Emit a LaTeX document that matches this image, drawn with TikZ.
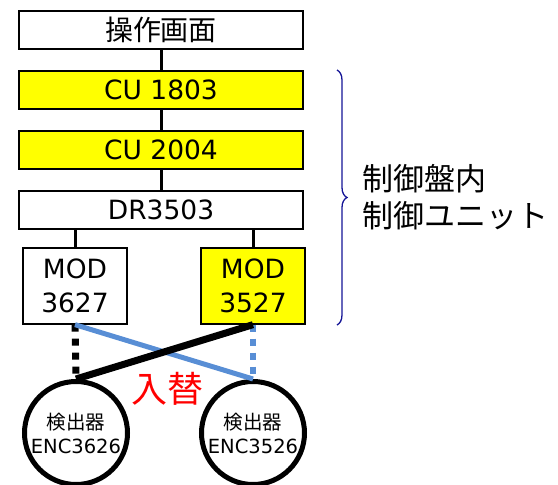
\documentclass[tikz,border=0pt]{standalone}
\usepackage{fontspec}
\setmainfont{DejaVu Sans}
\newfontfamily\jp{Noto Sans CJK JP}
\usetikzlibrary{decorations.pathreplacing}
\definecolor{cyellow}{RGB}{255,255,0}
\definecolor{lblue}{RGB}{88,142,213}
\definecolor{bnavy}{RGB}{20,20,150}

\begin{document}
\begin{tikzpicture}[x=1pt,y=-1pt]
\tikzstyle{every node}+=[inner sep=0pt]
\tikzstyle{unit}=[draw=black, line width=1.3pt, minimum width=284pt, minimum height=38pt, font=\fontsize{26.5}{28}\selectfont]
\tikzstyle{modbox}=[draw=black, line width=1.3pt, minimum width=104pt, minimum height=76pt, align=center, font=\fontsize{26.5}{34}\selectfont]
\tikzstyle{enc}=[draw=black, line width=5pt, circle, minimum size=103pt, align=center, font=\fontsize{19.5}{24}\selectfont]
\tikzstyle{wire}=[line width=3pt]
\useasboundingbox (0,0) rectangle (558,485);
% control units
\node [unit] (op) at (161,30) {\jp\fontsize{28}{30}\selectfont 操作画面};
\node [unit, fill=cyellow] (cu1) at (161,90) {CU 1803};
\node [unit, fill=cyellow] (cu2) at (161,150) {CU 2004};
\node [unit] (dr) at (161,210) {DR3503};
\node [modbox] (moda) at (75,286) {MOD\\3627};
\node [modbox, fill=cyellow] (modb) at (253,286) {MOD\\3527};
\draw [wire] (op) -- (cu1);
\draw [wire] (cu1) -- (cu2);
\draw [wire] (cu2) -- (dr);
\draw [wire] (dr.south -| moda) -- (moda);
\draw [wire] (dr.south -| modb) -- (modb);
% encoders
\node [enc] (enca) at (76,433) {{\jp 検出器}\\ENC3626};
\node [enc] (encb) at (253,433) {{\jp 検出器}\\ENC3526};
\draw [black, line width=7pt, dash pattern=on 7pt off 7pt] (moda.south) -- (enca.north);
\draw [lblue, line width=6pt, dash pattern=on 7pt off 7pt] (modb.south) -- (encb.north);
\draw [lblue, line width=5pt] (moda.south) -- (encb.north);
\draw [black, line width=7pt] (enca.north) -- (modb.south);
\node [red, font=\jp\fontsize{36}{36}\selectfont] (swap) at (167,389) {入替};
% brace
\coordinate (btop) at (337,70);
\coordinate (bbot) at (337,325);
\draw [bnavy, line width=1.3pt, decorate, decoration={brace, amplitude=10pt}] (btop) -- (bbot);
\node [anchor=west, align=left, font=\jp\fontsize{31}{37}\selectfont] (lbl) at (362,197) {制御盤内\\制御ユニット};
\end{tikzpicture}
\end{document}
